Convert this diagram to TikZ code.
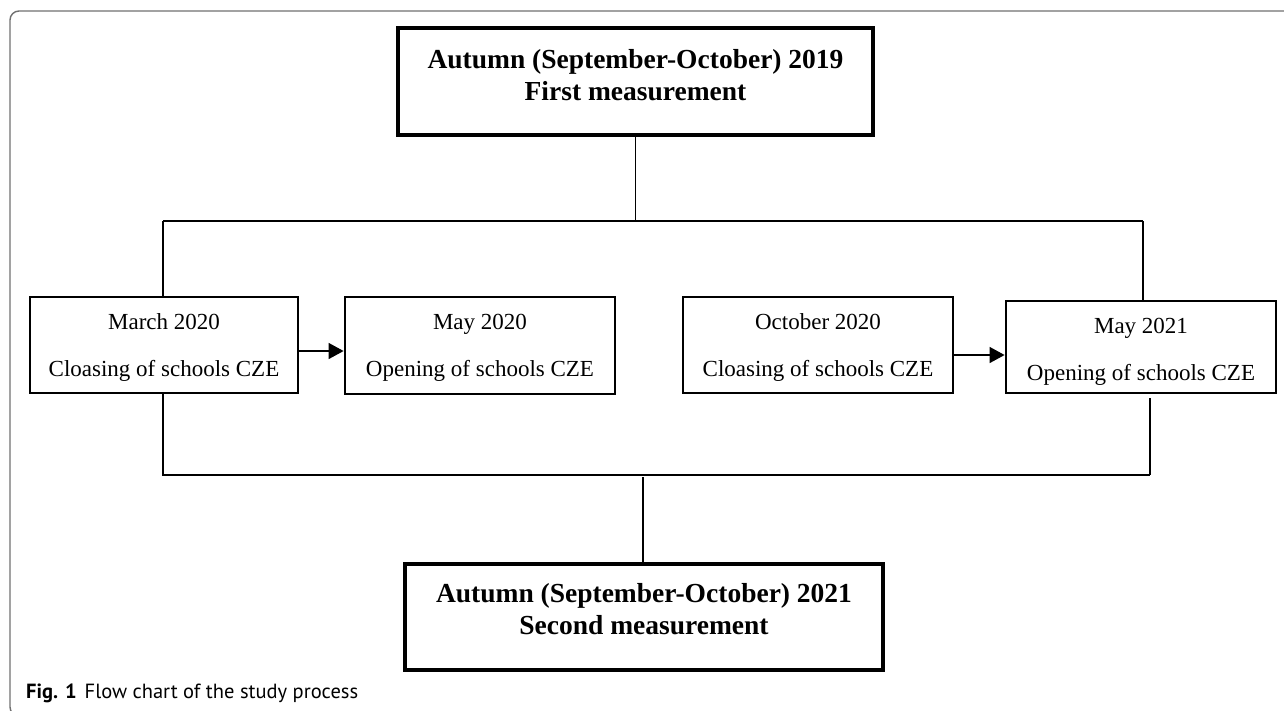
\documentclass[tikz,border=0pt]{standalone}
\usepackage{fontspec}
\setmainfont{Liberation Serif}
\newfontfamily\capfont{PT Sans}
\usetikzlibrary{arrows.meta,calc}
\definecolor{frameg}{RGB}{112,112,112}
\begin{document}
\begin{tikzpicture}[x=1pt,y=-1pt,
  bigbox/.style={draw,line width=3.8pt,inner sep=0pt},
  smallbox/.style={draw,line width=2.8pt,inner sep=0pt},
  bigtxt/.style={anchor=base,inner sep=0pt,font=\fontsize{27.5}{32}\selectfont\bfseries},
  smalltxt/.style={anchor=base,inner sep=0pt,font=\fontsize{23}{28}\selectfont},
  conn/.style={line width=1.3pt},
  arr/.style={line width=1.3pt,-{Triangle[length=15pt,width=16pt]}}]
\useasboundingbox (0,0) rectangle (1284,710);
\begin{scope}
\clip (0,0) rectangle (1284,710);
\draw[frameg,line width=1.4pt,rounded corners=9pt] (10,11) rectangle (1310,716);
\end{scope}
% boxes
\node[bigbox,minimum width=475pt,minimum height=107pt] (t) at (635.5,81.5) {};
\node[smallbox,minimum width=268pt,minimum height=96pt] (m1) at (164,345) {};
\node[smallbox,minimum width=270pt,minimum height=97pt] (m2) at (480,345.5) {};
\node[smallbox,minimum width=270pt,minimum height=96pt] (m3) at (818,345) {};
\node[smallbox,minimum width=270pt,minimum height=92pt] (m4) at (1141,347) {};
\node[bigbox,minimum width=478pt,minimum height=106pt] (b) at (644,617) {};
% texts
\node[bigtxt] (t1) at (635.5,68) {Autumn (September-October) 2019};
\node[bigtxt] (t2) at (635.5,100) {First measurement};
\node[smalltxt] (m1a) at (164,329) {March 2020};
\node[smalltxt] (m1b) at (164,376) {Cloasing of schools CZE};
\node[smalltxt] (m2a) at (480,329) {May 2020};
\node[smalltxt] (m2b) at (480,376) {Opening of schools CZE};
\node[smalltxt] (m3a) at (818,329) {October 2020};
\node[smalltxt] (m3b) at (818,376) {Cloasing of schools CZE};
\node[smalltxt] (m4a) at (1141,333) {May 2021};
\node[smalltxt] (m4b) at (1141,380) {Opening of schools CZE};
\node[bigtxt] (b1) at (644,602) {Autumn (September-October) 2021};
\node[bigtxt] (b2) at (644,634) {Second measurement};
% connectors top
\coordinate (jL) at (163,221);
\coordinate (jR) at (1143,221);
\draw[conn] (t.south) -- (t.south |- jL);
\draw[conn] (jL) -- (jR);
\draw[conn] (jL) -- (m1.north -| jL);
\draw[conn] (jR) -- (m4.north -| jR);
% connectors bottom
\coordinate (kL) at (163,475);
\coordinate (kR) at (1150,475);
\draw[conn] (m1.south -| kL) -- (kL) -- (kR);
\draw[conn] ([yshift=-4pt]m4.south -| kR) -- (kR);
\draw[conn] (b.north -| 643,0) -- (643,477);
% arrows
\draw[arr] ([yshift=-6pt]m1.east) -- ([yshift=-6pt]m1.east -| m2.west);
\draw[arr] ([yshift=-10pt]m3.east) -- ([yshift=-10pt]m3.east -| m4.west);
% caption
\node[anchor=base west,inner sep=0pt,font=\capfont\fontsize{20.5}{24}\selectfont] (cap) at (26,698) {\textbf{Fig. 1}\hspace{8pt}Flow chart of the study process};
\end{tikzpicture}
\end{document}
